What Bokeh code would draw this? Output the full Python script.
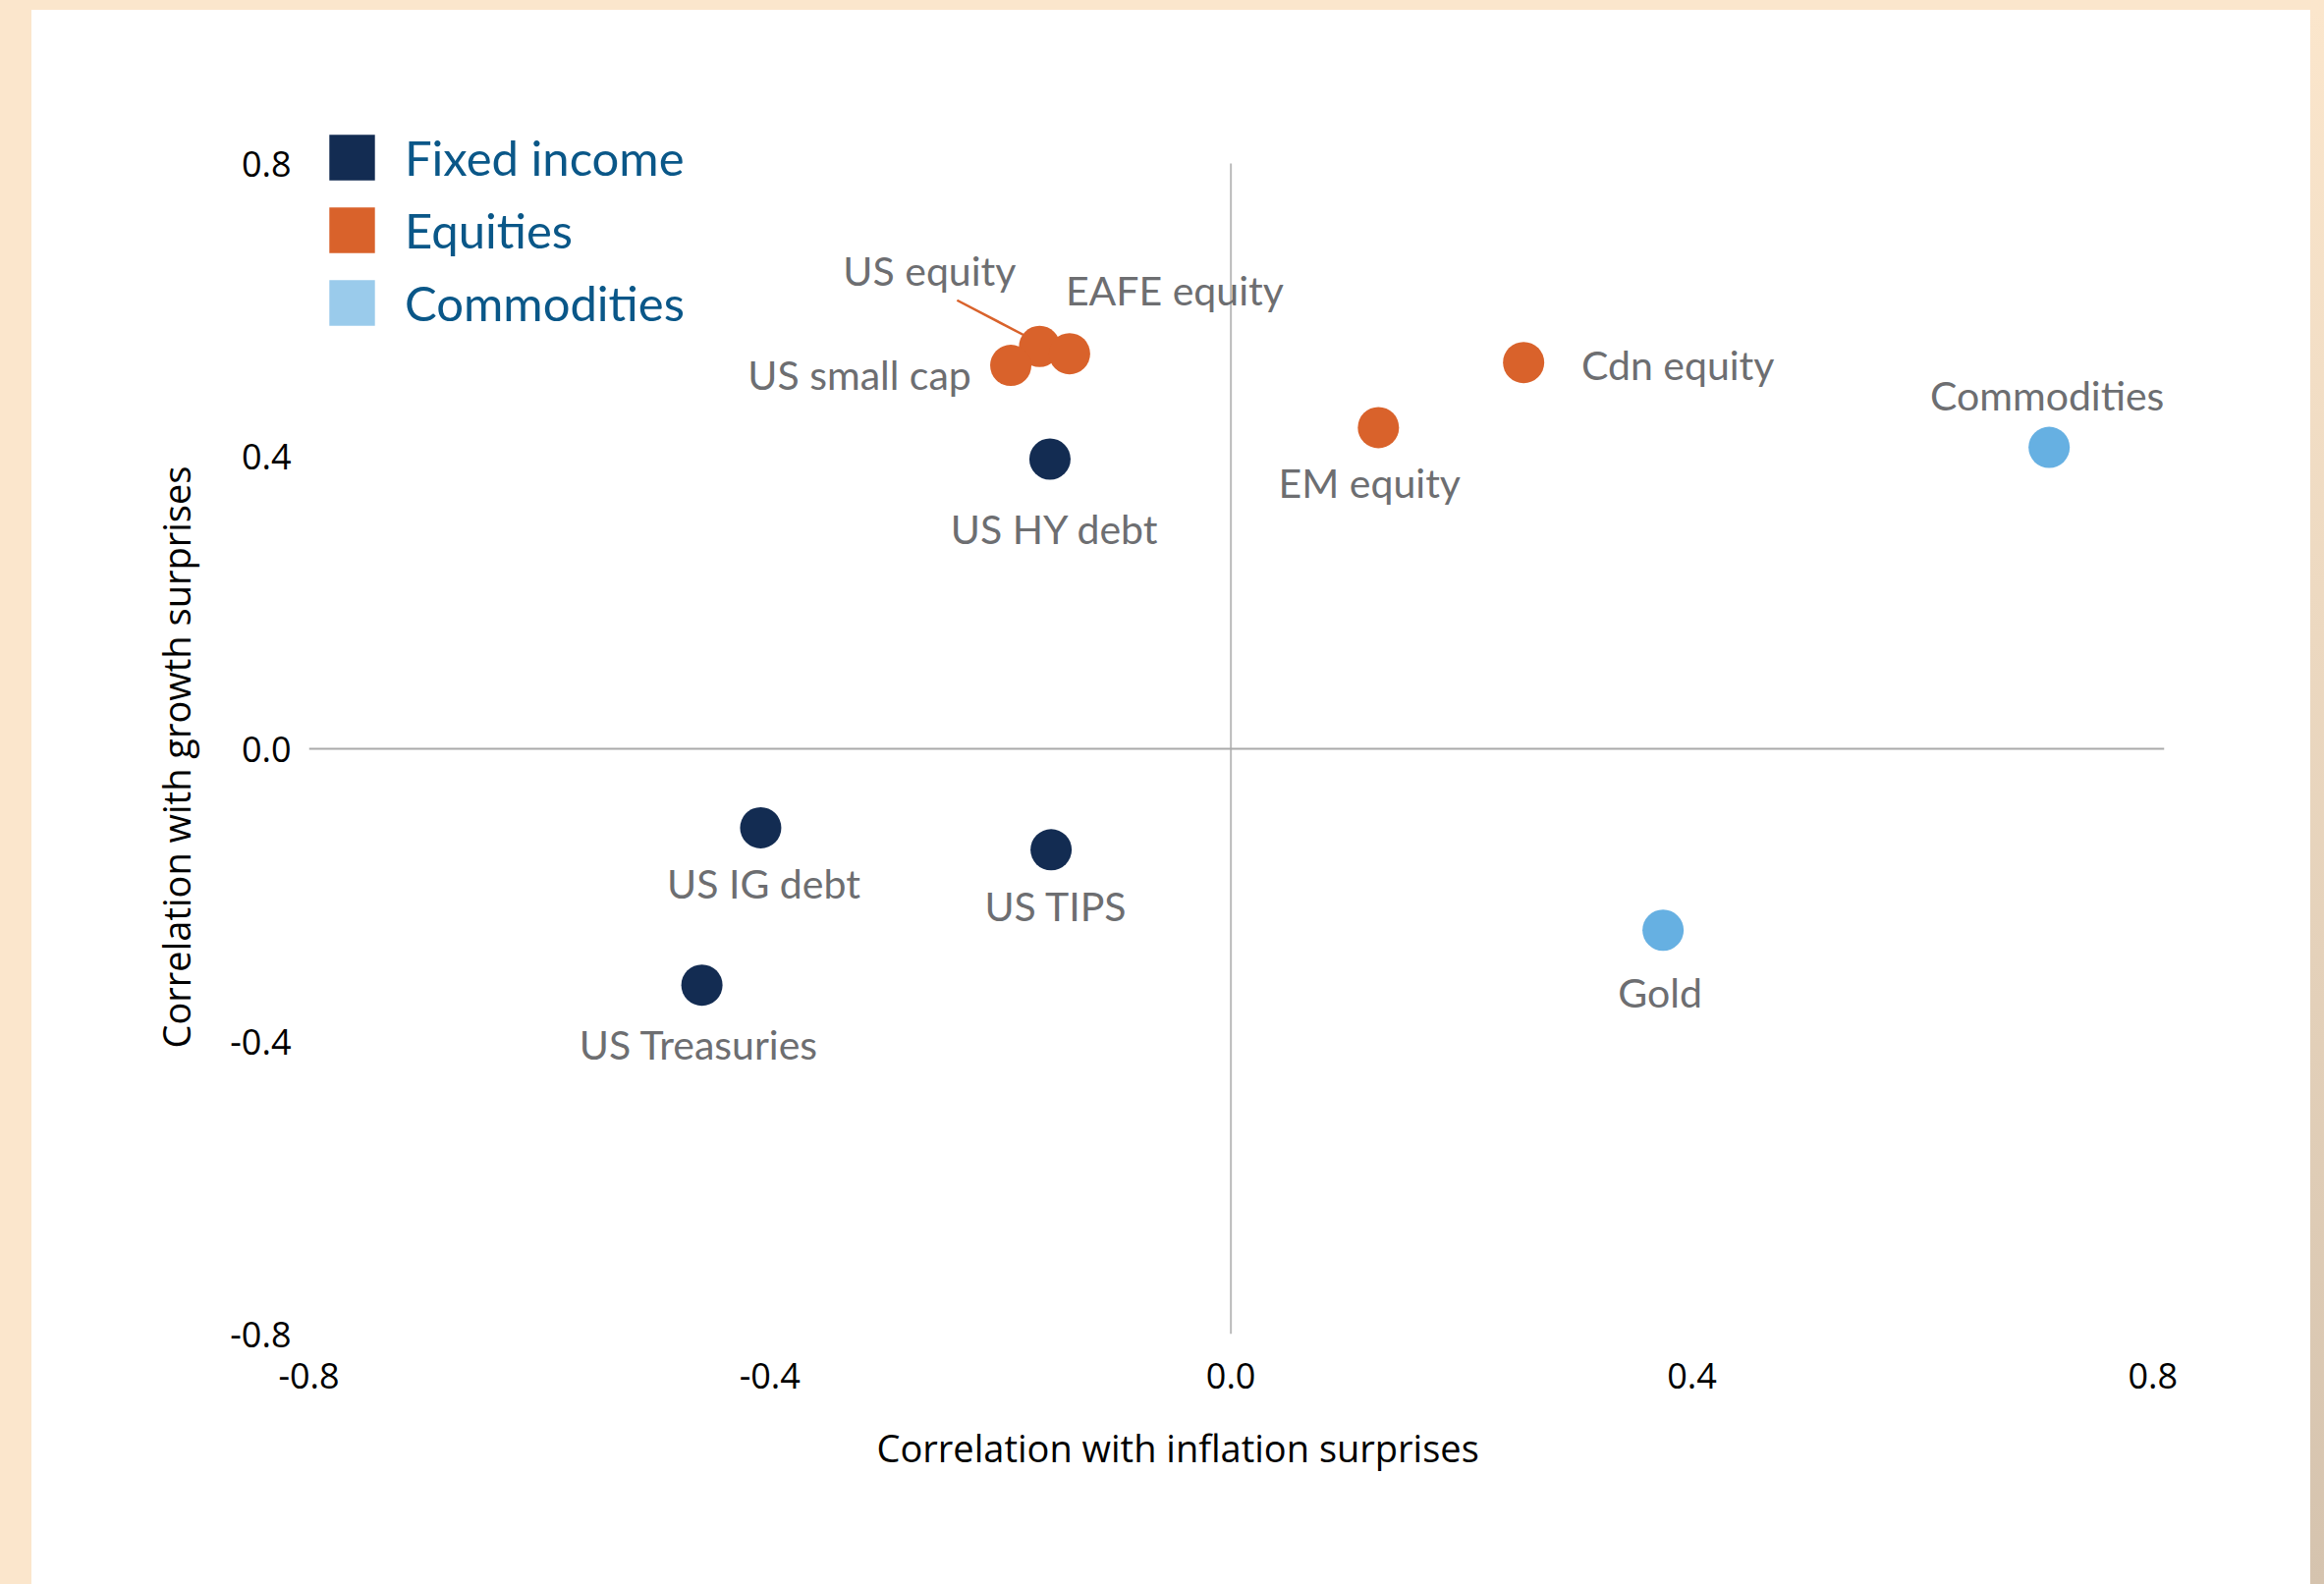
from bokeh.plotting import figure
from bokeh.models import (ColumnDataSource, Span, FixedTicker, NumeralTickFormatter,
                          Legend, LegendItem, Spacer, Title)
from bokeh.layouts import row, column
from bokeh.core.properties import value
from bokeh.embed import file_html
from bokeh.resources import INLINE

# ---------------- data ----------------
names = ["US equity", "EAFE equity", "US small cap", "US HY debt", "Cdn equity",
         "EM equity", "Commodities", "US IG debt", "US TIPS", "US Treasuries", "Gold"]
inflation_corr = [-0.166, -0.140, -0.191, -0.157, 0.254, 0.128, 0.710, -0.408, -0.156, -0.459, 0.375]
growth_corr = [0.550, 0.540, 0.524, 0.396, 0.528, 0.439, 0.412, -0.108, -0.138, -0.323, -0.248]
groups = ["Equities", "Equities", "Equities", "Fixed income", "Equities",
          "Equities", "Commodities", "Fixed income", "Fixed income", "Fixed income", "Commodities"]

legend_groups = ["Fixed income", "Equities", "Commodities"]
x_ticks = [-0.8, -0.4, 0.0, 0.4, 0.8]
y_ticks = [-0.8, -0.4, 0.0, 0.4, 0.8]
x_title = "Correlation with inflation surprises"
y_title = "Correlation with growth surprises"

# ---------------- styles ----------------
point_colors = {"Fixed income": "#132C52", "Equities": "#D9622B", "Commodities": "#66B0E2"}
legend_colors = {"Fixed income": "#132C52", "Equities": "#D9622B", "Commodities": "#9ACBEB"}
# label offsets in screen pixels (dx right, dy down)
label_dx = [-112, 107, -154, 5, 157, -9, -2, 3, 5, -3, -3]
label_dy = [-77, -65, 9, 71, 2, 56, -53, 57, 57, 60, 63]

BEIGE = "#FBE6CC"
LABEL_GRAY = "#6D6E71"
LEGEND_BLUE = "#0A5788"

src = ColumnDataSource(dict(
    name=names, x=inflation_corr, y=growth_corr, group=groups,
    color=[point_colors[g] for g in groups], dx=label_dx, dy=label_dy,
))

TOTAL_W, TOTAL_H = 2366, 1613
LEFT_W, RIGHT_W, TOP_H = 32, 14, 10
W, H = TOTAL_W - LEFT_W - RIGHT_W, TOTAL_H - TOP_H

FRAME_L, FRAME_R, FRAME_T, FRAME_B = 282, 2171, 110, 1348
px_per_y = (1348 - 156) / 1.6
y_top = y_ticks[-1] + (156 - FRAME_T) / px_per_y

p = figure(width=W, height=H, output_backend="svg", toolbar_location=None,
           x_range=(-0.8, 0.81), y_range=(y_ticks[0], y_top),
           min_border_left=FRAME_L, min_border_right=W - FRAME_R,
           min_border_top=FRAME_T, min_border_bottom=H - FRAME_B)
p.background_fill_color = "white"
p.border_fill_color = "white"
p.outline_line_color = None
p.grid.visible = False

# zero lines
p.add_layout(Span(location=0, dimension="width", line_color="#AAAAAA", line_width=2))
p.segment(x0=[0], y0=[y_ticks[0]], x1=[0], y1=[y_ticks[-1]], line_color="#BBBBBB", line_width=2)

# leader line for US equity (pixel offsets converted via plot scale)
px_per_x = (FRAME_R - FRAME_L) / (0.81 - (-0.8))
i_us = names.index("US equity")
p.segment(x0=[inflation_corr[i_us] - 84 / px_per_x], y0=[growth_corr[i_us] + 47 / px_per_y],
          x1=[inflation_corr[i_us] - 15 / px_per_x], y1=[growth_corr[i_us] + 11 / px_per_y],
          line_color="#D9622B", line_width=2.5)

p.scatter(x="x", y="y", source=src, size=42, fill_color="color", line_color=None)

p.text(x="x", y="y", text="name", source=src, x_offset="dx", y_offset="dy",
       text_align="center", text_baseline="middle", text_color=LABEL_GRAY,
       text_font=value("Lato"), text_font_size="41px")

# legend with square swatches (dummy quads, NaN so nothing is drawn in the plot)
nan = float("nan")
items = []
for g in legend_groups:
    r = p.quad(left=[nan], right=[nan], top=[nan], bottom=[nan],
               fill_color=legend_colors[g], line_color=None)
    items.append(LegendItem(label=g, renderers=[r]))
legend = Legend(items=items, location=(15, 1021), orientation="vertical",
                glyph_width=58, glyph_height=58, spacing=16, label_standoff=25,
                padding=0, margin=0, border_line_color=None, background_fill_alpha=0,
                label_text_font="Lato", label_text_font_size="49px",
                label_text_color=LEGEND_BLUE)
p.add_layout(legend)

# axes
for ax in (p.xaxis[0], p.yaxis[0]):
    ax.axis_line_color = None
    ax.major_tick_line_color = None
    ax.minor_tick_line_color = None
    ax.major_label_text_font = "Open Sans"
    ax.major_label_text_font_size = "36px"
    ax.major_label_text_color = "black"
    ax.formatter = NumeralTickFormatter(format="0.0")

p.xaxis.ticker = FixedTicker(ticks=x_ticks)
p.yaxis.ticker = FixedTicker(ticks=y_ticks)
p.xaxis.major_label_standoff = 23
p.yaxis.major_label_standoff = 12

# axis titles as Titles so they can be offset like the reference
xt = Title(text=x_title, align="left", offset=578, standoff=58,
           text_font="Open Sans", text_font_size="38px", text_font_style="normal",
           text_color="black")
p.add_layout(xt, "below")
yt = Title(text=y_title, align="left", offset=291, standoff=54,
           text_font="Open Sans", text_font_size="38px", text_font_style="normal",
           text_color="black")
p.add_layout(yt, "left")

top_strip = Spacer(width=TOTAL_W, height=TOP_H, styles={"background-color": BEIGE})
left_strip = Spacer(width=LEFT_W, height=H, styles={"background-color": BEIGE})
right_strip = Spacer(width=RIGHT_W, height=H,
                     styles={"background": "linear-gradient(%s, #D5C3AE)" % BEIGE})

layout = column(top_strip, row(left_strip, p, right_strip, spacing=0), spacing=0)

open("out.html", "w").write(file_html(layout, INLINE))
